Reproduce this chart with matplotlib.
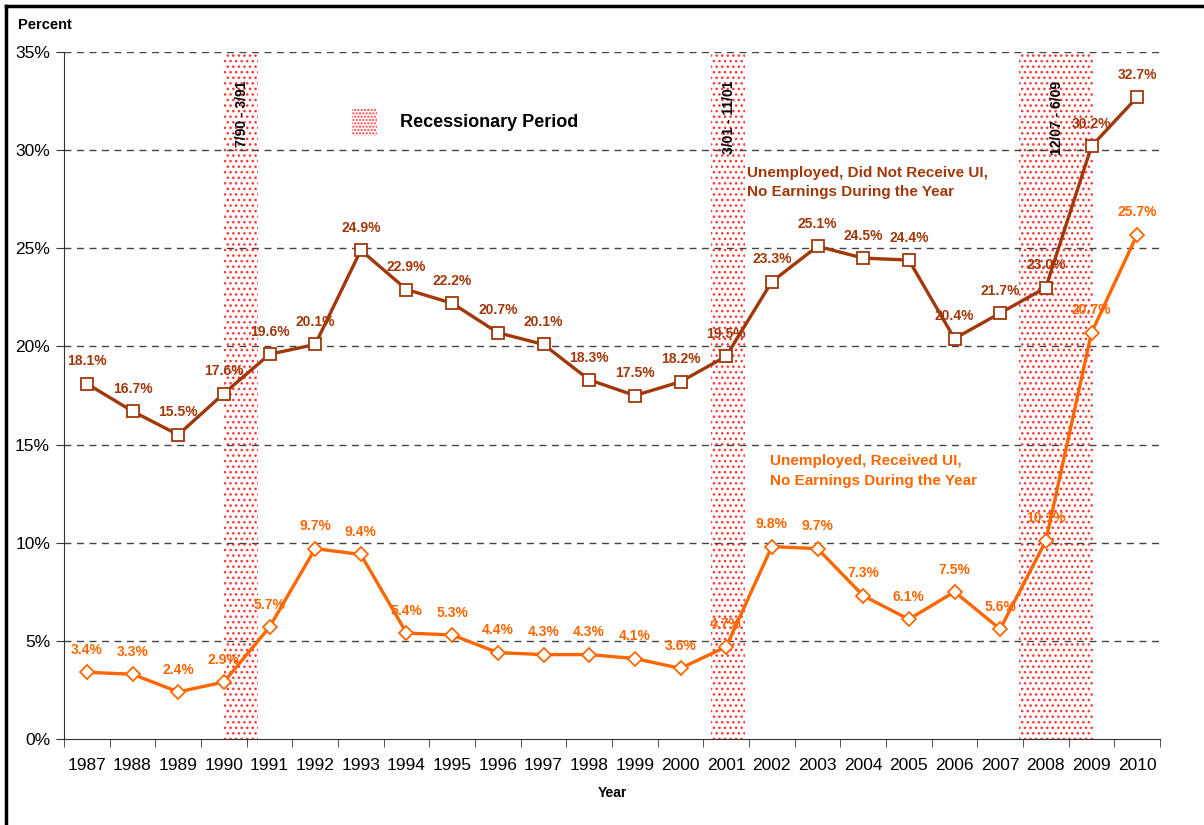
import matplotlib
matplotlib.use("Agg")
import matplotlib.pyplot as plt
from matplotlib.patches import Rectangle
from matplotlib.lines import Line2D

plt.rcParams['font.family'] = ['Liberation Sans', 'DejaVu Sans']
plt.rcParams['hatch.linewidth'] = 1.05

years = ['1987', '1988', '1989', '1990', '1991', '1992', '1993', '1994', '1995', '1996', '1997', '1998',
         '1999', '2000', '2001', '2002', '2003', '2004', '2005', '2006', '2007', '2008', '2009', '2010']
no_ui = [18.1, 16.7, 15.5, 17.6, 19.6, 20.1, 24.9, 22.9, 22.2, 20.7, 20.1, 18.3,
         17.5, 18.2, 19.5, 23.3, 25.1, 24.5, 24.4, 20.4, 21.7, 23.0, 30.2, 32.7]
with_ui = [3.4, 3.3, 2.4, 2.9, 5.7, 9.7, 9.4, 5.4, 5.3, 4.4, 4.3, 4.3,
           4.1, 3.6, 4.7, 9.8, 9.7, 7.3, 6.1, 7.5, 5.6, 10.1, 20.7, 25.7]
# recession spans in category-index units (1987 = 0)
recessions = [(3.0, 3.75, '7/90 - 3/91'), (13.66, 14.41, '3/01 - 11/01'), (20.41, 22.03, '12/07 - 6/09')]
yticks = [0, 5, 10, 15, 20, 25, 30, 35]

brown = '#A0380A'
orange = '#FF6600'
red = '#FF3838'

fig = plt.figure(figsize=(12.04, 8.25), dpi=100)
ax = fig.add_axes([64 / 1204, 1 - 739 / 825, (1160 - 64) / 1204, (739 - 52) / 825])

x = list(range(len(years)))

for x0, x1, lab in recessions:
    ax.add_patch(Rectangle((x0, 0), x1 - x0, 35, facecolor='white', edgecolor=red,
                           hatch='...', linewidth=0, zorder=1))
    ax.text((x0 + x1) / 2 + 0.02, 33.55, lab, rotation=90, ha='center', va='top',
            fontsize=10, fontweight='bold', color='black', zorder=3)

for v in yticks[1:]:
    ax.axhline(v, color='#444444', linestyle=(0, (5, 4)), linewidth=1.0, zorder=2)

ax.plot(x, no_ui, color=brown, linewidth=2.4, marker='s', markersize=8,
        markerfacecolor='white', markeredgecolor=brown, markeredgewidth=1.3, zorder=4)
ax.plot(x, with_ui, color=orange, linewidth=2.4, marker='D', markersize=7,
        markerfacecolor='white', markeredgecolor=orange, markeredgewidth=1.3, zorder=4)

for xi, v in zip(x, no_ui):
    ax.annotate(f'{v:.1f}%', (xi, v), xytext=(0, 11), textcoords='offset points', ha='center',
                va='bottom', fontsize=10, fontweight='bold', color=brown, zorder=5)
for xi, v in zip(x, with_ui):
    ax.annotate(f'{v:.1f}%', (xi, v), xytext=(0, 11), textcoords='offset points', ha='center',
                va='bottom', fontsize=10, fontweight='bold', color=orange, zorder=5)

ax.text(14.45, 29.2, 'Unemployed, Did Not Receive UI,\nNo Earnings During the Year', fontsize=11,
        fontweight='bold', color=brown, va='top', ha='left', linespacing=1.5)
ax.text(14.95, 14.5, 'Unemployed, Received UI,\nNo Earnings During the Year', fontsize=11,
        fontweight='bold', color=orange, va='top', ha='left', linespacing=1.5)

# legend for the recession bands
ax.add_patch(Rectangle((5.8, 30.7), 0.55, 1.4, facecolor='white', edgecolor=red,
                       hatch='.....', linewidth=0, zorder=3))
ax.text(6.85, 31.4, 'Recessionary Period', fontsize=13, fontweight='bold', va='center', ha='left')

ax.set_xlim(-0.5, len(years) - 0.5)
ax.set_ylim(0, 35)
ax.set_yticks(yticks)
ax.set_yticklabels([f'{v}%' for v in yticks], fontsize=12.5)
ax.set_xticks(x)
ax.set_xticklabels(years, fontsize=12.5)
ax.set_xticks([i - 0.5 for i in range(len(years) + 1)], minor=True)
ax.tick_params(axis='x', which='major', length=0, pad=14)
ax.tick_params(axis='x', which='minor', length=6, color='#333333')
ax.tick_params(axis='y', length=6, color='#333333', pad=4)
for s in ['top', 'right']:
    ax.spines[s].set_visible(False)
for s in ['left', 'bottom']:
    ax.spines[s].set_color('#333333')
ax.set_xlabel('Year', fontsize=10, fontweight='bold', labelpad=9)

fig.text(18 / 1204, 1 - 25 / 825, 'Percent', fontsize=10.5, fontweight='bold', va='center')

# figure frame (left and top edges)
fig.add_artist(Line2D([6 / 1204, 6 / 1204], [0, 1 - 6 / 825], color='black', linewidth=2.5,
                      transform=fig.transFigure))
fig.add_artist(Line2D([6 / 1204, 1], [1 - 6 / 825, 1 - 6 / 825], color='black', linewidth=2.5,
                      transform=fig.transFigure))

fig.savefig('out.png', dpi=100)
